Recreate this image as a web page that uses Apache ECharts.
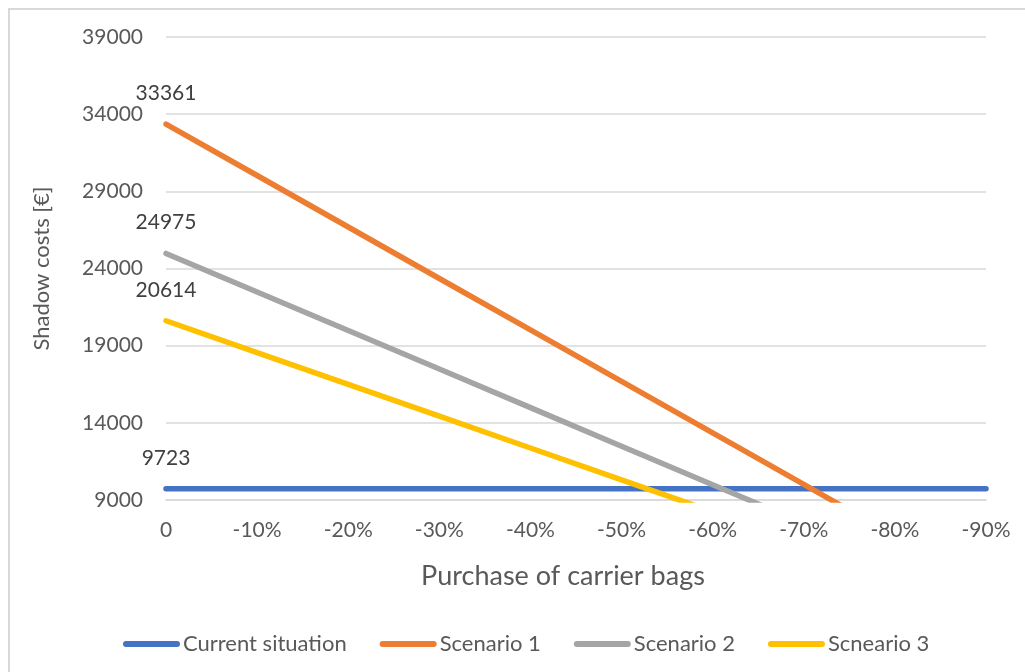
<!DOCTYPE html>
<html>
<head>
<meta charset="utf-8">
<script src="https://cdn.jsdelivr.net/npm/echarts@6/dist/echarts.min.js"></script>
<style>
  html, body { margin: 0; padding: 0; background: #ffffff; }
  #chart { width: 1025px; height: 672px; }
</style>
</head>
<body>
<div id="chart"></div>
<script>
// Purchase reduction steps on the x axis
const categories = ['0', '-10%', '-20%', '-30%', '-40%', '-50%', '-60%', '-70%', '-80%', '-90%'];

// Shadow costs in euro for each reduction step
const currentSituation = [9723, 9723, 9723, 9723, 9723, 9723, 9723, 9723, 9723, 9723];
const scenario1 = [33361, 30025, 26689, 23353, 20017, 16681, 13344, 10008, 6672, 3336];
const scenario2 = [24975, 22478, 19980, 17483, 14985, 12488, 9990, 7493, 4995, 2498];
const scenario3 = [20614, 18553, 16491, 14430, 12368, 10307, 8246, 6184, 4123, 2061];

// Cost axis range and tick labels
const yMin = 9000;
const yMax = 39000;
const yStep = 5000;

const seriesNames = ['Current situation', 'Scenario 1', 'Scenario 2', 'Scneario 3'];
const seriesColors = ['#4472C4', '#ED7D31', '#A5A5A5', '#FFC000'];
const seriesData = [currentSituation, scenario1, scenario2, scenario3];

const FONT = 'Lato, "Noto Sans", sans-serif';
const TEXT = '#595959';

// Only the first value of every line carries a label
function withFirstLabel(values) {
  return values.map((v, i) => i === 0
    ? { value: v, label: { show: true } }
    : v);
}

const chart = echarts.init(document.getElementById('chart'), null, { renderer: 'canvas' });

chart.setOption({
  animation: false,
  backgroundColor: '#ffffff',
  textStyle: { fontFamily: FONT },
  graphic: [{
    type: 'rect',
    shape: { x: 9, y: 9, width: 1200, height: 900 },
    style: { fill: 'none', stroke: '#D9D9D9', lineWidth: 2 },
    silent: true,
    z: -1
  }],
  grid: { left: 166, right: 39, top: 37, bottom: 172, containLabel: false },
  legend: {
    left: 118,
    top: 628,
    itemWidth: 57,
    itemHeight: 6,
    itemGap: 33,
    icon: 'path://M3,0 H54 A3,3 0 0 1 54,6 H3 A3,3 0 0 1 3,0 Z',
    textStyle: { fontFamily: FONT, fontSize: 22, color: TEXT, padding: [0, 0, 0, -2] },
    data: seriesNames
  },
  xAxis: {
    type: 'category',
    data: categories,
    boundaryGap: false,
    name: 'Purchase of carrier bags',
    nameLocation: 'middle',
    nameGap: 63,
    nameTextStyle: { fontFamily: FONT, fontSize: 27, color: TEXT, padding: [0, 26, 0, 0] },
    axisLine: { show: true, lineStyle: { color: '#D9D9D9', width: 1.5 } },
    axisTick: { show: false },
    axisLabel: { fontFamily: FONT, fontSize: 21, color: TEXT, margin: 20 },
    splitLine: { show: false }
  },
  yAxis: [
    {
      // value axis the lines are drawn on
      type: 'value',
      min: yMin,
      max: yMax,
      show: false
    },
    {
      // axis that carries the gridlines and the cost labels
      type: 'value',
      position: 'left',
      min: 0,
      max: yMax - yMin,
      interval: yStep,
      name: 'Shadow costs [€]',
      nameLocation: 'middle',
      nameGap: 113,
      nameTextStyle: { fontFamily: FONT, fontSize: 22, color: TEXT },
      axisLine: { show: false },
      axisTick: { show: false },
      axisLabel: {
        fontFamily: FONT, fontSize: 21, color: TEXT, margin: 23,
        formatter: v => String(v + yMin)
      },
      splitLine: { show: true, lineStyle: { color: '#D9D9D9', width: 1.5 } }
    }
  ],
  series: seriesData.map((values, k) => ({
    name: seriesNames[k],
    type: 'line',
    yAxisIndex: 0,
    data: withFirstLabel(values),
    symbol: 'circle',
    symbolSize: 1,
    showAllSymbol: true,
    clip: true,
    itemStyle: { color: seriesColors[k] },
    lineStyle: { color: seriesColors[k], width: 5.5, cap: 'round' },
    label: {
      show: false,
      position: 'top',
      distance: 20,
      fontFamily: FONT,
      fontSize: 21,
      color: '#404040'
    },
    emphasis: { disabled: true },
    z: 2 + k
  }))
});
</script>
</body>
</html>
